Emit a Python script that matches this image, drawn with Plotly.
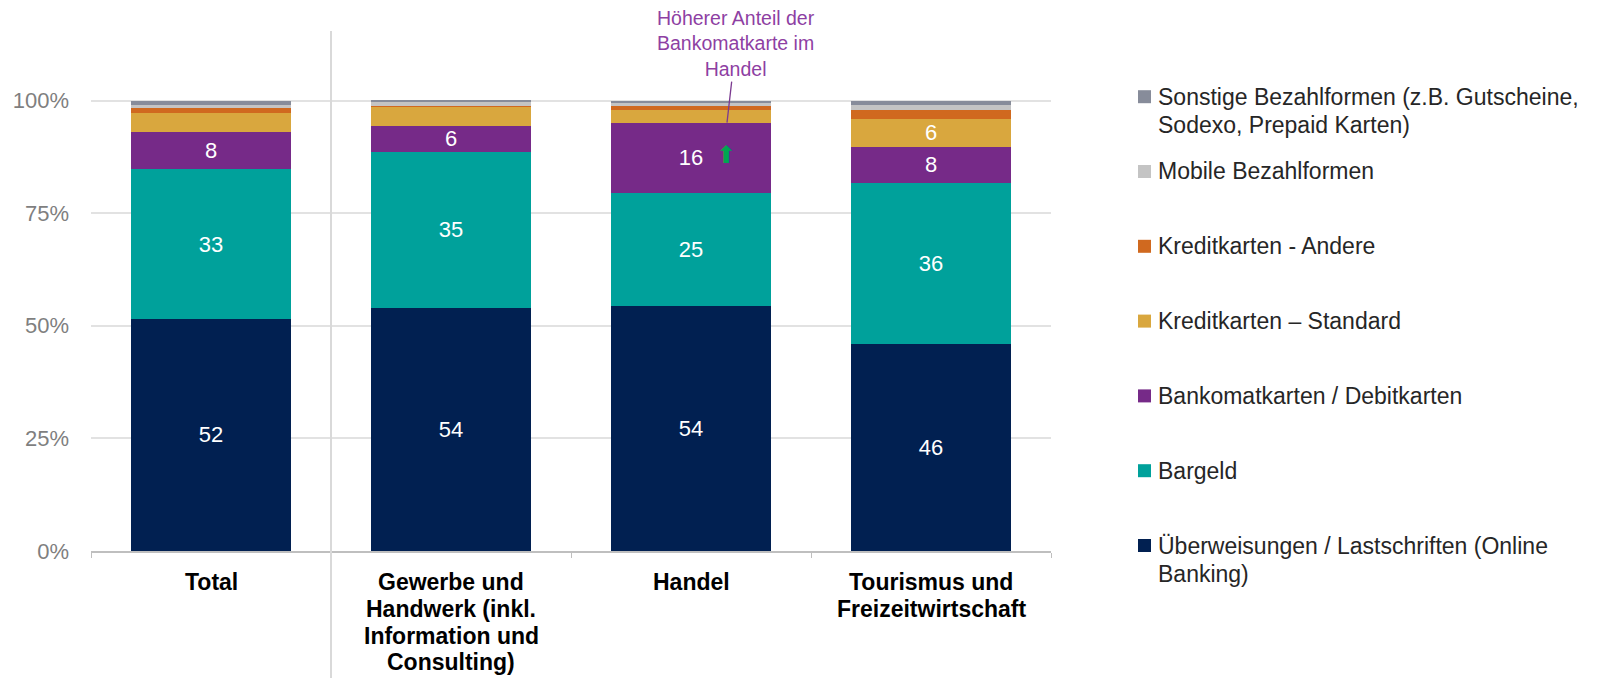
import plotly.graph_objects as go

# ---------------- data ----------------
categories = [
    "Total",
    "Gewerbe und<br>Handwerk (inkl.<br>Information und<br>Consulting)",
    "Handel",
    "Tourismus und<br>Freizeitwirtschaft",
]

ueberweisungen = [51.6, 54.0, 54.3, 45.9]
bargeld = [33.1, 34.6, 25.2, 35.8]
bankomat = [8.4, 5.8, 15.6, 8.0]
kredit_standard = [4.2, 4.3, 2.8, 6.3]
kredit_andere = [1.0, 0.1, 0.9, 1.9]
mobile = [0.8, 1.0, 0.6, 1.2]
sonstige = [0.9, 0.2, 0.6, 0.9]

series_names = [
    "Überweisungen / Lastschriften (Online Banking)",
    "Bargeld",
    "Bankomatkarten / Debitkarten",
    "Kreditkarten – Standard",
    "Kreditkarten - Andere",
    "Mobile Bezahlformen",
    "Sonstige Bezahlformen (z.B. Gutscheine, Sodexo, Prepaid Karten)",
]
legend_labels = [
    "Überweisungen / Lastschriften (Online<br>Banking)",
    "Bargeld",
    "Bankomatkarten / Debitkarten",
    "Kreditkarten – Standard",
    "Kreditkarten - Andere",
    "Mobile Bezahlformen",
    "Sonstige Bezahlformen (z.B. Gutscheine,<br>Sodexo, Prepaid Karten)",
]
series_values = [ueberweisungen, bargeld, bankomat, kredit_standard,
                 kredit_andere, mobile, sonstige]
colors = ["#012051", "#00A19B", "#762A88", "#D9A73E", "#D0691F", "#C4C4C4", "#878C9A"]

y_ticks = [0, 25, 50, 75, 100]
y_tick_text = ["0%", "25%", "50%", "75%", "100%"]

annotation_text = "Höherer Anteil der<br>Bankomatkarte im<br>Handel"

# ---------------- layout geometry ----------------
OFF = 8                      # default page margin around the plot div
W, H = 1597 - 2 * OFF, 678 - OFF
ML, MT = 83, 25
PLOT_RIGHT, PLOT_BOTTOM = 1043, 543
MR, MB = W - PLOT_RIGHT, H - PLOT_BOTTOM
PW = W - ML - MR
PH = H - MT - MB


def px_x(px):
    """screen x -> paper x"""
    return (px - OFF - ML) / PW


def px_y(py):
    """screen y -> paper y"""
    return (H - MB - (py - OFF)) / PH


FONT = "Liberation Sans, Arial, sans-serif"

fig = go.Figure()
for name, vals, col in zip(series_names, series_values, colors):
    fig.add_trace(go.Bar(
        x=categories, y=vals, name=name,
        marker=dict(color=col, line=dict(width=0)),
        text=[f"{v:.0f}" if v >= 5 else "" for v in vals],
        textposition="inside", insidetextanchor="middle",
        textangle=0, constraintext="none",
        textfont=dict(family=FONT, size=22, color="white"),
        showlegend=False,
        hovertemplate="%{y}<extra>" + name + "</extra>",
    ))

fig.update_layout(
    barmode="stack",
    bargap=1 / 3,
    width=W, height=H,
    margin=dict(l=ML, r=MR, t=MT, b=MB, pad=0, autoexpand=False),
    paper_bgcolor="white", plot_bgcolor="white",
    font=dict(family=FONT),
    showlegend=False,
)
fig.update_xaxes(
    type="category", range=[-0.5, 3.5], automargin=False,
    showgrid=False, showline=True, linecolor="#BFBFBF", linewidth=1.5,
    ticks="outside", tickson="boundaries", ticklen=5, tickcolor="#BFBFBF",
    showticklabels=False,
)
fig.update_yaxes(
    range=[0, 115], tickvals=y_ticks, ticktext=y_tick_text, automargin=False,
    showgrid=True, gridcolor="#E2E2E2", gridwidth=1.5,
    zeroline=False, showline=False, ticks="",
    tickfont=dict(family=FONT, size=22, color="#7F7F7F"),
    ticklabelstandoff=21,
)

shapes = []
# divider between Total and sectors
shapes.append(dict(type="line", xref="x", yref="paper", x0=0.5, x1=0.5,
                   y0=px_y(680), y1=px_y(31), line=dict(color="#D9D9D9", width=2),
                   layer="above"))

annotations = []
# category labels (tight line spacing, one annotation per line)
for cat in categories:
    for j, line in enumerate(cat.split("<br>")):
        annotations.append(dict(
            x=cat, xref="x", yref="paper", y=px_y(582 + j * 26.8),
            xanchor="center", yanchor="middle", showarrow=False, text=line,
            font=dict(family=FONT, size=23, color="black", weight="bold"),
        ))

# manual legend
for i, (lab, col) in enumerate(zip(legend_labels[::-1], colors[::-1])):
    first = 96.7 + i * 74.8
    shapes.append(dict(type="rect", xref="paper", yref="paper",
                       x0=px_x(1138), x1=px_x(1151),
                       y0=px_y(first + 6.5), y1=px_y(first - 6.5),
                       fillcolor=col, line=dict(width=0)))
    for j, line in enumerate(lab.split("<br>")):
        annotations.append(dict(xref="paper", yref="paper", x=px_x(1156),
                                y=px_y(first + j * 28.3),
                                xanchor="left", yanchor="middle", align="left",
                                text=line, showarrow=False,
                                font=dict(family=FONT, size=23, color="#262626")))

# callout for Handel
handel_idx = 2
purple_top = ueberweisungen[handel_idx] + bargeld[handel_idx] + bankomat[handel_idx]
annotations.append(dict(
    x=categories[handel_idx], y=purple_top, xref="x", yref="y",
    xshift=36, ax=9, ay=-79, showarrow=True, arrowhead=0, arrowwidth=1.3,
    arrowcolor="#7B3A90", text=annotation_text, align="center",
    font=dict(family=FONT, size=19.5, color="#8E3FA3"),
))
# green arrow in Handel Bankomat segment
purple_mid = ueberweisungen[handel_idx] + bargeld[handel_idx] + bankomat[handel_idx] / 2
annotations.append(dict(
    x=categories[handel_idx], y=purple_mid, xref="x", yref="y",
    xshift=35, yshift=3, showarrow=False, text="⬆",
    font=dict(family="DejaVu Sans", size=24, color="#00A651"),
))

fig.update_layout(shapes=shapes, annotations=annotations)
fig.write_html("out.html")
